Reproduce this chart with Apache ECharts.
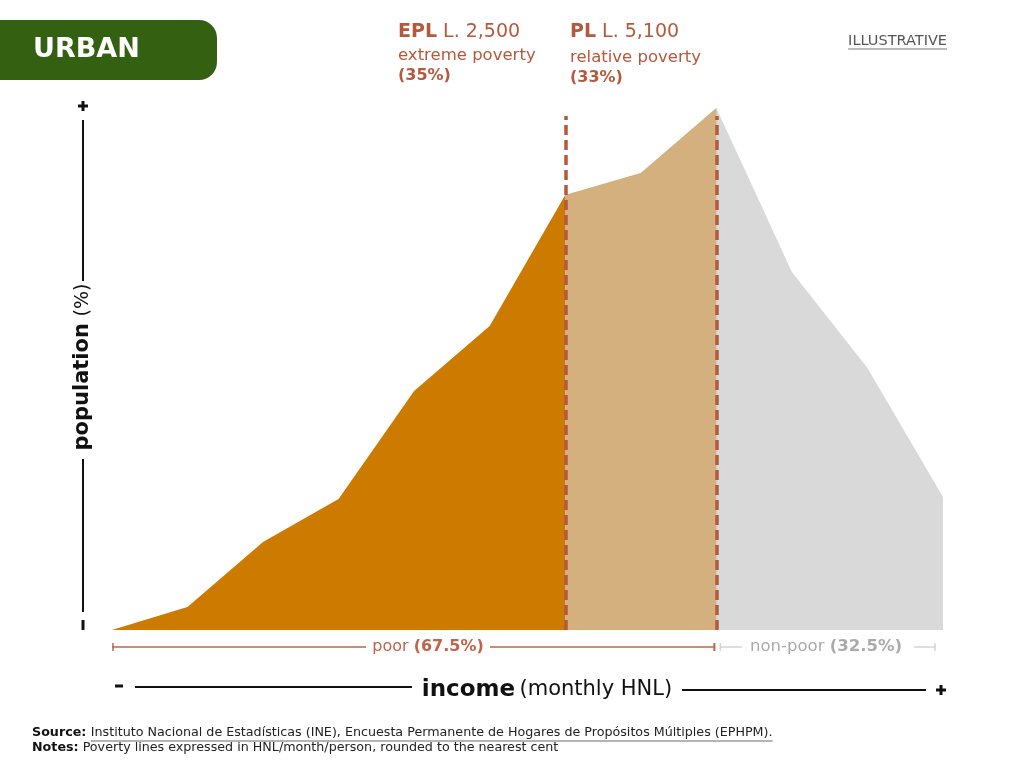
<!DOCTYPE html>
<html>
<head>
<meta charset="utf-8">
<title>Urban income distribution</title>
<script src="https://cdn.jsdelivr.net/npm/echarts@6/dist/echarts.min.js"></script>
<style>
  html, body { margin: 0; padding: 0; background: #fff; }
  #chart { width: 1024px; height: 768px; }
</style>
</head>
<body>
<div id="chart"></div>
<script>
// income brackets (illustrative steps) and population height at each step
const incomeSteps = [0, 1, 2, 3, 4, 5, 6, 7, 8, 9, 10, 11];
const population = [0, 2.3, 8.8, 13.1, 23.9, 30.4, 43.5, 45.7, 52.2, 35.8, 26.2, 13.3];
// where the poverty lines sit on the income axis
const eplStep = 6;
const plStep = 8;
const lineTop = 51.4;

const groupLabels = ['poor', 'non-poor'];
const groupShares = ['67.5%', '32.5%'];

const FONT = '"DejaVu Sans", "Open Sans", sans-serif';
const RUST = '#b5583b';
const chart = echarts.init(document.getElementById('chart'));

// used only to size the underlines
const measureCtx = document.createElement('canvas').getContext('2d');
function textWidth(s, size, weight) {
  measureCtx.font = (weight || 'normal') + ' ' + size + 'px ' + FONT;
  return measureCtx.measureText(s).width;
}

function pts(from, to) {
  const out = [];
  for (let i = from; i <= to; i++) out.push([incomeSteps[i], population[i]]);
  return out;
}

function area(name, data, color, z) {
  return {
    name: name,
    type: 'line',
    data: data,
    symbol: 'none',
    silent: true,
    z: z,
    lineStyle: { width: 0 },
    areaStyle: { color: color, opacity: 1 }
  };
}

const tan = area('relative', pts(eplStep, plStep), '#d3b07e', 3);
tan.markLine = {
  silent: true,
  symbol: 'none',
  label: { show: false },
  lineStyle: { color: RUST, width: 3.5, type: [10, 5], opacity: 1 },
  data: [
    [{ coord: [eplStep, 0] }, { coord: [eplStep, lineTop] }],
    [{ coord: [plStep, 0] }, { coord: [plStep, lineTop] }]
  ]
};

chart.setOption({
  animation: false,
  textStyle: { fontFamily: FONT },
  grid: { left: 112, right: 81, top: 30, bottom: 138 },
  xAxis: { type: 'value', min: 0, max: 11, show: false },
  yAxis: { type: 'value', min: 0, max: 60, show: false },
  series: [
    area('all', pts(0, 11), '#d9d9d9', 1),
    area('extreme', pts(0, eplStep), '#cc7a00', 2),
    tan
  ]
});

// decorations placed from the axis scale
const x0 = chart.convertToPixel({ xAxisIndex: 0 }, incomeSteps[0]);
const xPl = chart.convertToPixel({ xAxisIndex: 0 }, plStep);
const xEnd = chart.convertToPixel({ xAxisIndex: 0 }, incomeSteps[incomeSteps.length - 1]);

function hline(x1, x2, y, color, w) {
  return { type: 'line', shape: { x1: x1, y1: y, x2: x2, y2: y }, style: { stroke: color, lineWidth: w || 1.5 }, silent: true };
}
function vline(x, y1, y2, color, w) {
  return { type: 'line', shape: { x1: x, y1: y1, x2: x, y2: y2 }, style: { stroke: color, lineWidth: w || 1.5 }, silent: true };
}
function txt(x, y, text, opt) {
  return {
    type: 'text', x: x, y: y, silent: true,
    style: Object.assign({ text: text, fontFamily: FONT, fill: '#222', fontSize: 14 }, opt || {})
  };
}
function plus(x, y) {
  return [hline(x - 5, x + 5, y, '#111', 3), vline(x, y - 5, y + 5, '#111', 3)];
}

const poorMid = 428, nonPoorMid = 826;
const bracketY = 647;

const FOOT = 12.7;
const srcLead = 'Source: ';
const srcText = 'Instituto Nacional de Estadísticas (INE), Encuesta Permanente de Hogares de Propósitos Múltiples (EPHPM).';
const srcX = 32 + textWidth(srcLead, FOOT, 'bold');
const srcW = textWidth(srcText, FOOT);
const illW = textWidth('ILLUSTRATIVE', 14.5);

const g = [
  // header badge
  { type: 'rect', shape: { x: -20, y: 20, width: 237, height: 60, r: [0, 18, 18, 0] }, style: { fill: '#336111' }, silent: true },
  txt(33, 50, 'URBAN', { fill: '#fff', fontSize: 27, fontWeight: 'bold', verticalAlign: 'middle' }),

  // poverty line notes
  txt(398, 32, '{b|EPL} L. 2,500', { fill: RUST, fontSize: 19, verticalAlign: 'middle',
    rich: { b: { fontWeight: 'bold', fontSize: 19, fill: RUST, fontFamily: FONT } } }),
  txt(398, 56, 'extreme poverty', { fill: RUST, fontSize: 16.5, verticalAlign: 'middle' }),
  txt(398, 76, '(35%)', { fill: RUST, fontSize: 16, fontWeight: 'bold', verticalAlign: 'middle' }),
  txt(570, 32, '{b|PL} L. 5,100', { fill: RUST, fontSize: 19, verticalAlign: 'middle',
    rich: { b: { fontWeight: 'bold', fontSize: 19, fill: RUST, fontFamily: FONT } } }),
  txt(570, 58, 'relative poverty', { fill: RUST, fontSize: 16.5, verticalAlign: 'middle' }),
  txt(570, 78, '(33%)', { fill: RUST, fontSize: 16, fontWeight: 'bold', verticalAlign: 'middle' }),

  txt(947, 41, 'ILLUSTRATIVE', { fill: '#555', fontSize: 14.5, align: 'right', verticalAlign: 'middle' }),
  hline(947 - illW, 947, 49, '#777', 1),

  // y axis arrow
  ...plus(83, 106),
  vline(83, 120, 281, '#111', 2),
  vline(83, 459, 612, '#111', 2),
  vline(83, 620, 630, '#111', 3),
  {
    type: 'text', x: 83, y: 367, rotation: Math.PI / 2, silent: true,
    style: {
      text: '{b|population}  {n|(%)}', align: 'center', verticalAlign: 'middle',
      rich: {
        b: { fontFamily: FONT, fontSize: 21, fontWeight: 'bold', fill: '#111' },
        n: { fontFamily: FONT, fontSize: 19, fill: '#111' }
      }
    }
  },

  // poor / non-poor brackets
  hline(x0, poorMid - 62, bracketY, '#c0644a'),
  hline(poorMid + 62, xPl - 2, bracketY, '#c0644a'),
  vline(x0 + 1, bracketY - 4, bracketY + 4, '#c0644a'),
  vline(xPl - 2, bracketY - 4, bracketY + 4, '#c0644a', 2),
  txt(poorMid, bracketY, groupLabels[0] + ' {b|(' + groupShares[0] + ')}', {
    fill: '#c0644a', fontSize: 16, align: 'center', verticalAlign: 'middle',
    rich: { b: { fontFamily: FONT, fontSize: 16, fontWeight: 'bold', fill: '#c0644a' } }
  }),
  hline(xPl + 4, nonPoorMid - 84, bracketY, '#d4d4d4'),
  hline(nonPoorMid + 88, xEnd - 8, bracketY, '#d4d4d4'),
  vline(xPl + 4, bracketY - 4, bracketY + 4, '#d4d4d4'),
  vline(xEnd - 8, bracketY - 4, bracketY + 4, '#d4d4d4'),
  txt(nonPoorMid, bracketY, groupLabels[1] + ' {b|(' + groupShares[1] + ')}', {
    fill: '#aaa', fontSize: 16.5, align: 'center', verticalAlign: 'middle',
    rich: { b: { fontFamily: FONT, fontSize: 16.5, fontWeight: 'bold', fill: '#aaa' } }
  }),

  // x axis arrow
  hline(115, 123, 686, '#111', 3),
  hline(135, 412, 687, '#111', 2),
  hline(682, 926, 690, '#111', 2),
  ...plus(941, 690),
  txt(547, 690, '{b|income} {n|(monthly HNL)}', {
    align: 'center', verticalAlign: 'middle',
    rich: {
      b: { fontFamily: FONT, fontSize: 23, fontWeight: 'bold', fill: '#111' },
      n: { fontFamily: FONT, fontSize: 21, fill: '#111' }
    }
  }),

  // footer
  txt(32, 733, '{b|' + srcLead + '}' + srcText, {
    fontSize: FOOT, verticalAlign: 'middle', fill: '#222',
    rich: { b: { fontFamily: FONT, fontSize: FOOT, fontWeight: 'bold', fill: '#111' } }
  }),
  hline(srcX, srcX + srcW, 741, '#444', 0.8),
  txt(32, 748, '{b|Notes:} Poverty lines expressed in HNL/month/person, rounded to the nearest cent', {
    fontSize: FOOT, verticalAlign: 'middle', fill: '#222',
    rich: { b: { fontFamily: FONT, fontSize: FOOT, fontWeight: 'bold', fill: '#111' } }
  })
];

chart.setOption({ graphic: g });
</script>
</body>
</html>
